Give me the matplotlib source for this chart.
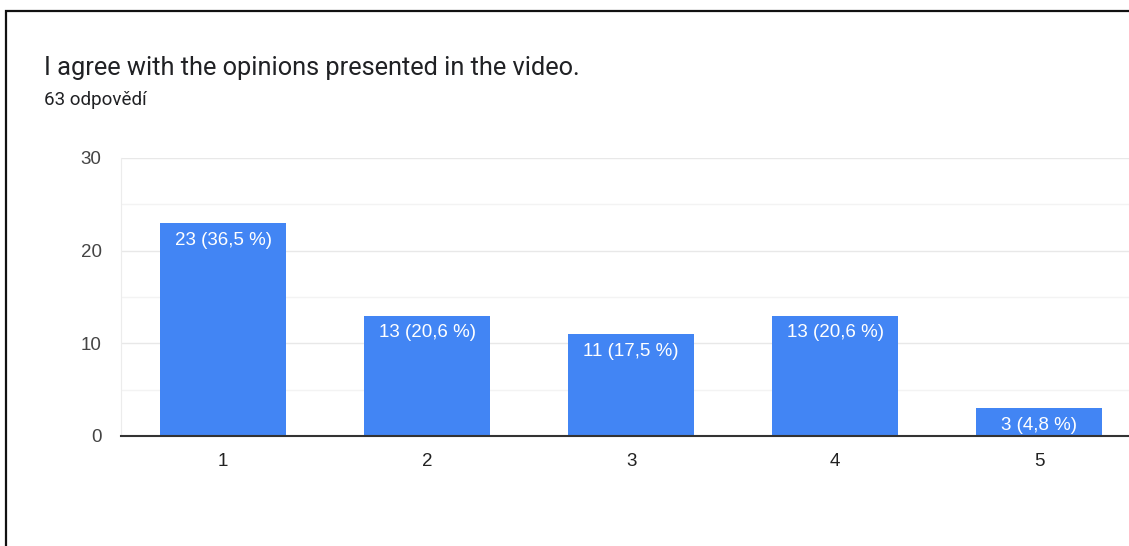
import matplotlib
matplotlib.use("Agg")
import matplotlib.pyplot as plt
from matplotlib.patches import Rectangle

plt.rcParams['font.family'] = ['Roboto', 'DejaVu Sans']

# Survey answers (scale 1-5)
categories = [1, 2, 3, 4, 5]
counts = [23, 13, 11, 13, 3]
labels = ['23 (36,5 %)', '13 (20,6 %)', '11 (17,5 %)', '13 (20,6 %)', '3 (4,8 %)']
title = 'I agree with the opinions presented in the video.'
subtitle = '63 odpovědí'

fig = plt.figure(figsize=(11.29, 5.46), dpi=100)

# screenshot frame
fig.patches.append(Rectangle((6 / 1129, -0.1), 1.2, (546 - 11) / 546 + 0.1,
                             transform=fig.transFigure, fill=False,
                             edgecolor='#111111', linewidth=1.6))

fig.text(44 / 1129, 1 - 68 / 546, title, fontsize=18.3, color='#202124', va='center')
fig.text(44 / 1129, 1 - 100 / 546, subtitle, fontsize=13.5, color='#202124', va='center')

ax = fig.add_axes([121 / 1129, 1 - 436 / 546, 1 - 121 / 1129, (436 - 158) / 546])
bars = ax.bar(categories, counts, width=0.62, color='#4285F4', zorder=3)

for b, lab in zip(bars, labels):
    ax.text(b.get_x() + b.get_width() / 2, b.get_height() - 0.95, lab,
            ha='center', va='top', color='white', fontsize=13.5,
            family='Liberation Sans', zorder=4)

ax.set_xlim(0.5, 5.44)
ax.set_ylim(0, 30)
ax.set_yticks([0, 10, 20, 30])
ax.set_yticks([5, 15, 25], minor=True)
ax.set_xticks(categories)
ax.grid(axis='y', which='major', color='#e8e8e8', linewidth=1, zorder=0)
ax.grid(axis='y', which='minor', color='#f3f3f3', linewidth=1, zorder=0)
ax.tick_params(axis='both', which='both', length=0, labelsize=13.5, labelcolor='#444444')
ax.tick_params(axis='y', pad=14)
ax.tick_params(axis='x', pad=12, labelcolor='#222222')
for t in ax.get_xticklabels() + ax.get_yticklabels():
    t.set_family('Liberation Sans')

for s in ['top', 'right']:
    ax.spines[s].set_visible(False)
ax.spines['left'].set_color('#ececec')
ax.spines['bottom'].set_color('#333333')
ax.spines['bottom'].set_linewidth(1.5)
ax.spines['bottom'].set_zorder(5)

fig.savefig('out.png', dpi=100)
